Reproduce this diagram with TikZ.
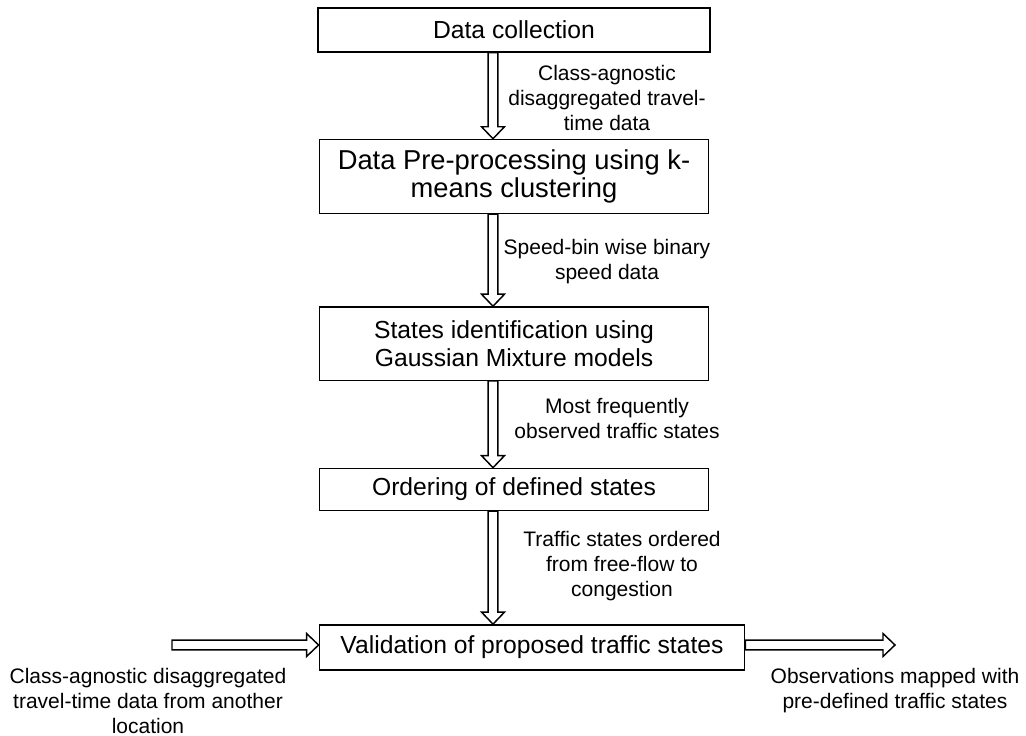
\documentclass[tikz,border=0pt]{standalone}
\usepackage{fontspec}
\setmainfont{Liberation Sans}
\usetikzlibrary{positioning, calc}

\tikzset{
  stepbox/.style={draw, line width=1.1pt, minimum width=292pt, align=center, inner sep=2pt, font=\fontsize{18.5}{20.5}\selectfont},
  flowlabel/.style={align=center, inner sep=0pt, font=\fontsize{15.75}{18.75}\selectfont},
  blockarrow/.style={line width=1.1pt, line join=miter, to path={
    ($(\tikztostart)!3.6pt!90:(\tikztotarget)$)
    -- ($(\tikztotarget)!9pt!(\tikztostart)!3.6pt!-90:(\tikztostart)$)
    -- ($(\tikztotarget)!9pt!(\tikztostart)!8.6pt!-90:(\tikztostart)$)
    -- (\tikztotarget)
    -- ($(\tikztotarget)!9pt!(\tikztostart)!8.6pt!90:(\tikztostart)$)
    -- ($(\tikztotarget)!9pt!(\tikztostart)!3.6pt!90:(\tikztostart)$)
    -- ($(\tikztostart)!3.6pt!-90:(\tikztotarget)$) -- cycle}}
}

\begin{document}
\begin{tikzpicture}[x=0.75pt, y=-0.75pt]
  \useasboundingbox (0,0) rectangle (1026,736);
  \node (collect) [stepbox, minimum width=294pt, minimum height=33pt] at (514,30) {Data collection};
  \node (prep) [stepbox, minimum height=55.5pt, font=\fontsize{20.5}{20.5}\selectfont, below=64.5pt of collect] {Data Pre-processing using k-\\means clustering};
  \node (ident) [stepbox, minimum height=55pt, below=69pt of prep] {States identification using\\Gaussian Mixture models};
  \node (order) [stepbox, minimum height=31.5pt, below=65pt of ident] {Ordering of defined states};
  \node (valid) [stepbox, minimum width=319pt, minimum height=34pt, below=84.75pt of order.south west, anchor=north west] {Validation of proposed traffic states};

  \coordinate (axis) at (493,0);
  \draw[blockarrow] (collect.south -| axis) to (prep.north -| axis);
  \draw[blockarrow] (prep.south -| axis) to (ident.north -| axis);
  \draw[blockarrow] (ident.south -| axis) to (order.north -| axis);
  \draw[blockarrow] (order.south -| axis) to (valid.north -| axis);
  \coordinate (inL) at (172,645);
  \coordinate (outR) at (895,645);
  \draw[blockarrow] (inL) to (valid.west |- inL);
  \draw[blockarrow] (valid.east |- outR) to (outR);

  \node (lab1) [flowlabel] at (607,98) {Class-agnostic\\disaggregated travel-\\time data};
  \node (lab2) [flowlabel] at (607,262) {Speed-bin wise binary\\speed data};
  \node (lab3) [flowlabel] at (617,418) {Most frequently\\observed traffic states};
  \node (lab4) [flowlabel] at (622,566) {Traffic states ordered\\from free-flow to\\congestion};
  \node (labin) [flowlabel] at (148,701) {Class-agnostic disaggregated\\travel-time data from another\\location};
  \node (labout) [flowlabel] at (895,691) {Observations mapped with\\pre-defined traffic states};
\end{tikzpicture}
\end{document}
